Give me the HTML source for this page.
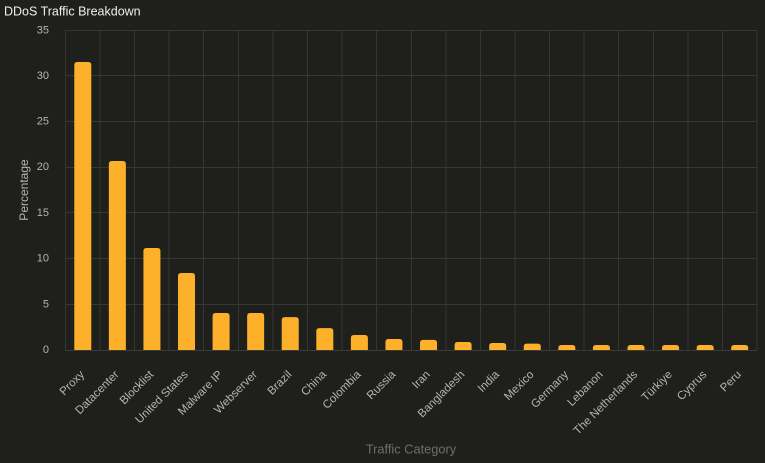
<!DOCTYPE html>
<html><head><meta charset="utf-8"><style>
html,body{margin:0;padding:0;background:#1f1f1c;}
svg{display:block;font-family:"Liberation Sans",Arial,sans-serif;}
</style></head><body>
<svg width="765" height="463" viewBox="0 0 765 463" xmlns="http://www.w3.org/2000/svg">
<rect width="765" height="463" fill="#1f1f1c"/>
<text x="4" y="15.5" fill="#f0f0f0" font-size="12.5">DDoS Traffic Breakdown</text>
<g stroke="#363633" stroke-width="1">
<line x1="65.5" y1="30.5" x2="757" y2="30.5"/>
<line x1="65.5" y1="75.5" x2="757" y2="75.5"/>
<line x1="65.5" y1="121.5" x2="757" y2="121.5"/>
<line x1="65.5" y1="167.5" x2="757" y2="167.5"/>
<line x1="65.5" y1="212.5" x2="757" y2="212.5"/>
<line x1="65.5" y1="258.5" x2="757" y2="258.5"/>
<line x1="65.5" y1="304.5" x2="757" y2="304.5"/>
<line x1="65.5" y1="30" x2="65.5" y2="350"/>
<line x1="100" y1="30" x2="100" y2="350"/>
<line x1="134.5" y1="30" x2="134.5" y2="350"/>
<line x1="169" y1="30" x2="169" y2="350"/>
<line x1="203.5" y1="30" x2="203.5" y2="350"/>
<line x1="238.5" y1="30" x2="238.5" y2="350"/>
<line x1="273" y1="30" x2="273" y2="350"/>
<line x1="307.5" y1="30" x2="307.5" y2="350"/>
<line x1="342" y1="30" x2="342" y2="350"/>
<line x1="376.5" y1="30" x2="376.5" y2="350"/>
<line x1="411.5" y1="30" x2="411.5" y2="350"/>
<line x1="446" y1="30" x2="446" y2="350"/>
<line x1="480.5" y1="30" x2="480.5" y2="350"/>
<line x1="515" y1="30" x2="515" y2="350"/>
<line x1="549.5" y1="30" x2="549.5" y2="350"/>
<line x1="584" y1="30" x2="584" y2="350"/>
<line x1="618.5" y1="30" x2="618.5" y2="350"/>
<line x1="653.5" y1="30" x2="653.5" y2="350"/>
<line x1="688" y1="30" x2="688" y2="350"/>
<line x1="722.5" y1="30" x2="722.5" y2="350"/>
<line x1="757" y1="30" x2="757" y2="350"/>
</g>
<line x1="65.5" y1="350.5" x2="757" y2="350.5" stroke="#3c3c39" stroke-width="1"/>
<g fill="#fdb12b">
<path d="M74.29 350V65Q74.29 62 77.29 62H88.29Q91.29 62 91.29 65V350Z"/>
<path d="M108.86 350V164Q108.86 161 111.86 161H122.86Q125.86 161 125.86 164V350Z"/>
<path d="M143.44 350V251Q143.44 248 146.44 248H157.44Q160.44 248 160.44 251V350Z"/>
<path d="M178.01 350V276Q178.01 273 181.01 273H192.01Q195.01 273 195.01 276V350Z"/>
<path d="M212.59 350V316Q212.59 313 215.59 313H226.59Q229.59 313 229.59 316V350Z"/>
<path d="M247.16 350V316Q247.16 313 250.16 313H261.16Q264.16 313 264.16 316V350Z"/>
<path d="M281.74 350V320.1Q281.74 317.1 284.74 317.1H295.74Q298.74 317.1 298.74 320.1V350Z"/>
<path d="M316.31 350V331.1Q316.31 328.1 319.31 328.1H330.31Q333.31 328.1 333.31 331.1V350Z"/>
<path d="M350.89 350V338Q350.89 335 353.89 335H364.89Q367.89 335 367.89 338V350Z"/>
<path d="M385.46 350V342Q385.46 339 388.46 339H399.46Q402.46 339 402.46 342V350Z"/>
<path d="M420.04 350V342.9Q420.04 339.9 423.04 339.9H434.04Q437.04 339.9 437.04 342.9V350Z"/>
<path d="M454.61 350V345Q454.61 342 457.61 342H468.61Q471.61 342 471.61 345V350Z"/>
<path d="M489.19 350V346Q489.19 343 492.19 343H503.19Q506.19 343 506.19 346V350Z"/>
<path d="M523.76 350V346.6Q523.76 343.6 526.76 343.6H537.76Q540.76 343.6 540.76 346.6V350Z"/>
<path d="M558.34 350V348Q558.34 345 561.34 345H572.34Q575.34 345 575.34 348V350Z"/>
<path d="M592.91 350V348Q592.91 345 595.91 345H606.91Q609.91 345 609.91 348V350Z"/>
<path d="M627.49 350V348Q627.49 345 630.49 345H641.49Q644.49 345 644.49 348V350Z"/>
<path d="M662.06 350V348Q662.06 345 665.06 345H676.06Q679.06 345 679.06 348V350Z"/>
<path d="M696.64 350V348Q696.64 345 699.64 345H710.64Q713.64 345 713.64 348V350Z"/>
<path d="M731.21 350V348Q731.21 345 734.21 345H745.21Q748.21 345 748.21 348V350Z"/>
</g>
<g fill="#b4b4b4" font-size="11" text-anchor="end" dominant-baseline="central">
<text x="49" y="30.5">35</text>
<text x="49" y="76">30</text>
<text x="49" y="121.5">25</text>
<text x="49" y="167">20</text>
<text x="49" y="213">15</text>
<text x="49" y="258.5">10</text>
<text x="49" y="304.5">5</text>
<text x="49" y="350">0</text>
</g>
<g fill="#b4b4b4" font-size="11.5" text-anchor="end" dominant-baseline="central">
<text transform="translate(82.8,373) rotate(-45)">Proxy</text>
<text transform="translate(117.4,373) rotate(-45)">Datacenter</text>
<text transform="translate(151.9,373) rotate(-45)">Blocklist</text>
<text transform="translate(186.5,373) rotate(-45)">United States</text>
<text transform="translate(221.1,373) rotate(-45)">Malware IP</text>
<text transform="translate(255.7,373) rotate(-45)">Webserver</text>
<text transform="translate(290.2,373) rotate(-45)">Brazil</text>
<text transform="translate(324.8,373) rotate(-45)">China</text>
<text transform="translate(359.4,373) rotate(-45)">Colombia</text>
<text transform="translate(394,373) rotate(-45)">Russia</text>
<text transform="translate(428.5,373) rotate(-45)">Iran</text>
<text transform="translate(463.1,373) rotate(-45)">Bangladesh</text>
<text transform="translate(497.7,373) rotate(-45)">India</text>
<text transform="translate(532.3,373) rotate(-45)">Mexico</text>
<text transform="translate(566.8,373) rotate(-45)">Germany</text>
<text transform="translate(601.4,373) rotate(-45)">Lebanon</text>
<text transform="translate(636,373) rotate(-45)">The Netherlands</text>
<text transform="translate(670.6,373) rotate(-45)">Türkiye</text>
<text transform="translate(705.1,373) rotate(-45)">Cyprus</text>
<text transform="translate(739.7,373) rotate(-45)">Peru</text>
</g>
<text transform="translate(24,190) rotate(-90)" fill="#b4b4b4" font-size="12" text-anchor="middle" dominant-baseline="central">Percentage</text>
<text x="411" y="449" fill="#6e6e6b" font-size="12.8" text-anchor="middle" dominant-baseline="central">Traffic Category</text>
</svg>
</body></html>
